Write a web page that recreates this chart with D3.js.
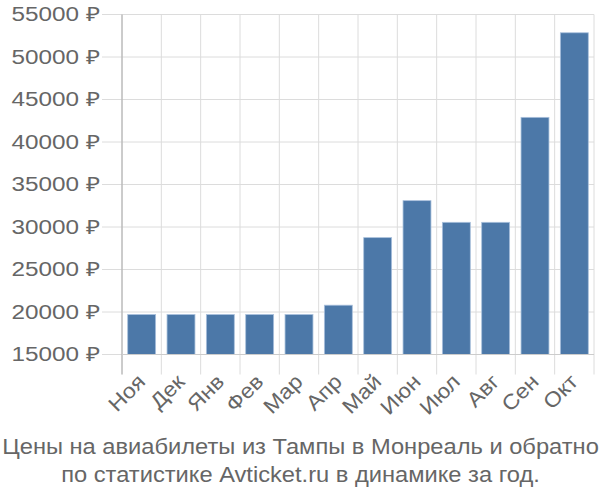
<!DOCTYPE html>
<html><head><meta charset="utf-8">
<script src="https://cdn.jsdelivr.net/npm/d3@7"></script>
<style>body{margin:0;background:#fff}svg{display:block}</style>
</head><body>
<svg id="c" width="600" height="500"></svg>
<script>
const months = ["Ноя","Дек","Янв","Фев","Мар","Апр","Май","Июн","Июл","Авг","Сен","Окт"];
const prices = [19700,19700,19700,19700,19700,20800,28750,33100,30550,30550,42900,52850];
const yTicks = [15000,20000,25000,30000,35000,40000,45000,50000,55000];
const titleLines = ["Цены на авиабилеты из Тампы в Монреаль и обратно","по статистике Avticket.ru в динамике за год."];

(function(){
const svg = d3.select("#c");
const mLeft = 122, mRight = 594, mTop = 14.5, mBottom = 354.5;
const x = d3.scaleBand().domain(months).range([mLeft, mRight]).paddingInner(0.29).paddingOuter(0.145);
const xb = d3.scaleBand().domain(months).range([mLeft, mRight]);
const y = d3.scaleLinear().domain([15000,55000]).range([mBottom, mTop]);
const font = "Liberation Sans, Arial, sans-serif";

svg.append("g").selectAll("line").data(yTicks).join("line")
  .attr("x1", 102).attr("x2", mRight).attr("y1", d=>y(d)).attr("y2", d=>y(d))
  .attr("stroke", "#dcdcdc").attr("stroke-width", 1);
const vx = months.map(m=>xb(m)).concat([mRight]);
svg.append("g").selectAll("line").data(vx).join("line")
  .attr("x1", d=>d).attr("x2", d=>d).attr("y1", mTop).attr("y2", mBottom+20)
  .attr("stroke", "#dcdcdc").attr("stroke-width", 1);

svg.append("g").selectAll("rect").data(months).join("rect")
  .attr("x", d=>x(d)).attr("width", x.bandwidth())
  .attr("y", (d,i)=>y(prices[i])).attr("height", (d,i)=>mBottom - y(prices[i]))
  .attr("fill", "#4c78a8").attr("stroke", "#a9c0dc").attr("stroke-width", 0.8);

svg.append("line").attr("x1", mLeft).attr("x2", mLeft).attr("y1", mTop).attr("y2", mBottom+20)
  .attr("stroke", "#aaa").attr("stroke-width", 1);
svg.append("line").attr("x1", mLeft).attr("x2", mRight).attr("y1", mBottom).attr("y2", mBottom)
  .attr("stroke", "#cccccc").attr("stroke-width", 1.2);

const yl = svg.append("g").selectAll("text").data(yTicks).join("text")
  .attr("x", 0).attr("y", 0).attr("dy", "0.35em")
  .attr("text-anchor", "end").attr("font-family", font).attr("font-size", 19.5)
  .attr("fill", "#666").text(d=>d + " ₽");
const ySx = 88 / yl.node().getComputedTextLength();
yl.attr("transform", d=>`translate(100,${y(d)}) scale(${ySx},1)`);

const xl = svg.append("g").selectAll("text").data(months).join("text")
  .attr("text-anchor", "end").attr("font-family", font).attr("font-size", 21)
  .attr("fill", "#666").text(d=>d);
const xSx = 42 / xl.node().getComputedTextLength();
xl.attr("transform", d=>`translate(${xb(d)+xb.bandwidth()/2+5},383) rotate(-45) scale(${xSx},1)`);

const tl = svg.append("g").selectAll("text").data(titleLines).join("text")
  .attr("text-anchor", "middle")
  .attr("font-family", font).attr("font-size", 22).attr("fill", "#666").text(d=>d);
const tSx = 597 / tl.node().getComputedTextLength();
tl.attr("transform", (d,i)=>`translate(300.5,${454 + i*28}) scale(${tSx},1)`);
})();
</script>
</body></html>
